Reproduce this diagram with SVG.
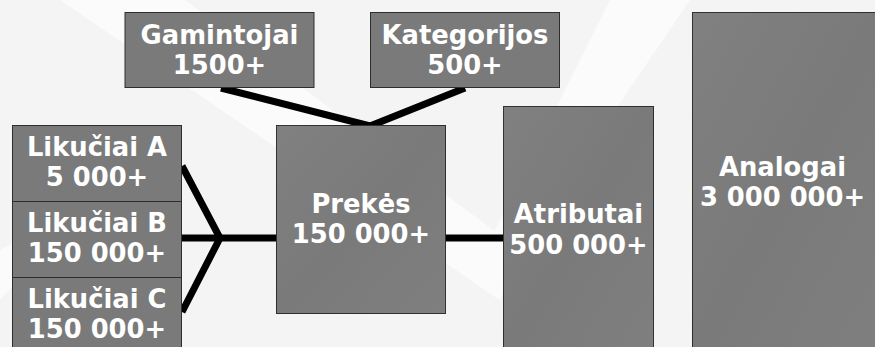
<svg xmlns="http://www.w3.org/2000/svg" width="875" height="347" viewBox="0 0 875 347">
  <style>
    .box { fill: #7a7a7a; stroke: #2e2e2e; stroke-width: 1; }
    .lbl { font-family: "DejaVu Sans", sans-serif; font-weight: bold; font-size: 25.8px; fill: #ffffff; text-anchor: middle; }
    .link { fill: none; stroke: #000000; stroke-width: 7; stroke-linecap: butt; stroke-linejoin: miter; }
  </style>
  <defs>
    <linearGradient id="sheen" x1="0" y1="0" x2="1" y2="1">
      <stop offset="0" stop-color="#ffffff" stop-opacity="0.05"/>
      <stop offset="0.5" stop-color="#ffffff" stop-opacity="0"/>
      <stop offset="1" stop-color="#ffffff" stop-opacity="0.04"/>
    </linearGradient>
  </defs>

  <!-- backdrop with faint diagonal chevron bands -->
  <rect x="0" y="0" width="875" height="347" fill="#f4f4f4"/>
  <g fill="#fbfbfb">
    <polygon points="60,0 185,0 520,250 500,300"/>
    <polygon points="610,0 690,0 520,250 500,300 470,280"/>
    <polygon points="0,250 90,200 0,300"/>
    <polygon points="760,347 875,250 875,300 820,347"/>
  </g>

  <!-- connectors -->
  <g id="connectors">
    <polyline class="link" points="221,88 370,126 465,88"/>
    <polyline class="link" points="182,166 220,238 182,312"/>
    <line class="link" x1="182" y1="238" x2="276" y2="238"/>
    <line class="link" x1="446" y1="238" x2="503" y2="238"/>
  </g>

  <g id="gamintojai">
    <rect class="box" x="125" y="12.5" width="189" height="75"/>
    <text class="lbl" x="219.5" y="44">Gamintojai</text>
    <text class="lbl" x="219.5" y="74">1500+</text>
  </g>

  <g id="kategorijos">
    <rect class="box" x="370.5" y="12.5" width="189" height="75"/>
    <text class="lbl" x="465" y="44">Kategorijos</text>
    <text class="lbl" x="465" y="74">500+</text>
  </g>

  <g id="likuciai-a">
    <rect class="box" x="12.5" y="125.5" width="169" height="76"/>
    <text class="lbl" x="97" y="156">Likučiai A</text>
    <text class="lbl" x="97" y="186">5 000+</text>
  </g>

  <g id="likuciai-b">
    <rect class="box" x="12.5" y="201.5" width="169" height="76"/>
    <text class="lbl" x="97" y="232">Likučiai B</text>
    <text class="lbl" x="97" y="262">150 000+</text>
  </g>

  <g id="likuciai-c">
    <rect class="box" x="12.5" y="277.5" width="169" height="76"/>
    <text class="lbl" x="97" y="308">Likučiai C</text>
    <text class="lbl" x="97" y="338">150 000+</text>
  </g>

  <g id="prekes">
    <rect class="box" x="276.5" y="125.5" width="169" height="188"/>
    <text class="lbl" x="361" y="213">Prekės</text>
    <text class="lbl" x="361" y="243">150 000+</text>
  </g>

  <g id="atributai">
    <rect class="box" x="503.5" y="106.5" width="150" height="250"/>
    <text class="lbl" x="578.5" y="223">Atributai</text>
    <text class="lbl" x="578.5" y="254">500 000+</text>
  </g>

  <g id="analogai">
    <rect class="box" x="692.5" y="12.5" width="190" height="345"/>
    <text class="lbl" x="782.5" y="176">Analogai</text>
    <text class="lbl" x="782.5" y="206">3 000 000+</text>
  </g>

  <!-- soft sheen over the boxes -->
  <g fill="url(#sheen)">
    <rect x="276.5" y="125.5" width="169" height="188"/>
    <rect x="503.5" y="106.5" width="150" height="250"/>
    <rect x="692.5" y="12.5" width="190" height="345"/>
  </g>
</svg>
